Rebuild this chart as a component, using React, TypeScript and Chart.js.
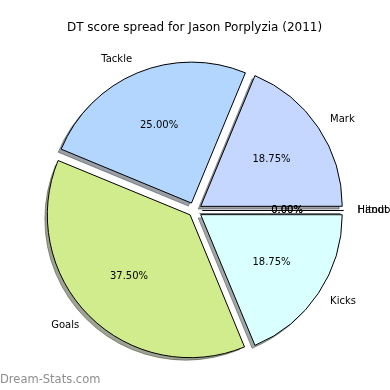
import { useEffect, useRef } from "react";
import { Chart, registerables } from "chart.js";

Chart.register(...registerables);

const TITLE = "DT score spread for Jason Porplyzia (2011)";
const WATERMARK = "Dream-Stats.com";
// Order as drawn clockwise from 3 o'clock
const categories = ["Kicks", "Goals", "Tackle", "Mark", "Handball", "Hitout"];
const values = [3, 6, 4, 3, 0, 0];
const colors = ["#d9ffff", "#d0ec8d", "#b3d6ff", "#c5d7ff", "#c5d7ff", "#c5d7ff"];

const EXPLODE = 8;
const RADIUS = 141;
const SHADOW_DX = -3;
const SHADOW_DY = 3;
const FONT = "'DejaVu Sans', 'Liberation Sans', sans-serif";

const total = values.reduce((a, b) => a + b, 0);
// Chart.js translates an arc by offset/4 * (2 - sin(min(PI, circumference)))
const offsets = values.map((v) => {
  const circ = (v / total) * Math.PI * 2;
  return (EXPLODE * 4) / (2 - Math.sin(Math.min(Math.PI, circ)));
});

function shadowColor(hex: string) {
  const n = parseInt(hex.slice(1), 16);
  const r = Math.round(((n >> 16) & 255) * 0.3);
  const g = Math.round(((n >> 8) & 255) * 0.3);
  const b = Math.round((n & 255) * 0.3);
  return `rgba(${r},${g},${b},0.5)`;
}

function geometry(chart: any) {
  const meta = chart.getDatasetMeta(0);
  return meta.data.map((arc: any) => {
    const p = arc.getProps(["x", "y", "startAngle", "endAngle", "outerRadius"], true);
    const mid = (p.startAngle + p.endAngle) / 2;
    return {
      cx: p.x + Math.cos(mid) * EXPLODE,
      cy: p.y + Math.sin(mid) * EXPLODE,
      r: p.outerRadius,
      start: p.startAngle,
      end: p.endAngle,
      mid,
    };
  });
}

const extrasPlugin = {
  id: "pieExtras",
  beforeDatasetsDraw(chart: any) {
    const ctx = chart.ctx;
    const geo = geometry(chart);
    ctx.save();
    geo.forEach((g: any, i: number) => {
      const col = shadowColor(colors[i]);
      const sx = g.cx + SHADOW_DX;
      const sy = g.cy + SHADOW_DY;
      if (values[i] === 0) {
        ctx.lineWidth = 1;
        ctx.strokeStyle = col;
        ctx.beginPath();
        ctx.moveTo(sx, sy);
        ctx.lineTo(sx + Math.cos(g.mid) * g.r, sy + Math.sin(g.mid) * g.r);
        ctx.stroke();
        return;
      }
      ctx.beginPath();
      ctx.moveTo(sx, sy);
      ctx.arc(sx, sy, g.r, g.start, g.end);
      ctx.closePath();
      ctx.fillStyle = col;
      ctx.fill();
      ctx.lineWidth = 1;
      ctx.strokeStyle = col;
      ctx.stroke();
    });
    ctx.restore();
  },
  afterDatasetsDraw(chart: any) {
    const ctx = chart.ctx;
    const geo = geometry(chart);
    // zero-width slices drawn as lines
    geo.forEach((g: any, i: number) => {
      if (values[i] !== 0) return;
      ctx.save();
      ctx.lineWidth = 1;
      ctx.strokeStyle = "#000";
      ctx.beginPath();
      ctx.moveTo(g.cx, g.cy);
      ctx.lineTo(g.cx + Math.cos(g.mid) * g.r, g.cy + Math.sin(g.mid) * g.r);
      ctx.stroke();
      ctx.restore();
    });
    ctx.save();
    ctx.font = `10px ${FONT}`;
    ctx.fillStyle = "#000";
    ctx.textBaseline = "middle";
    geo.forEach((g: any, i: number) => {
      const c = Math.cos(g.mid);
      const s = Math.sin(g.mid);
      ctx.textAlign = c > 0 ? "left" : "right";
      ctx.fillText(categories[i], g.cx + 1.1 * g.r * c, g.cy + 1.1 * g.r * s);
      ctx.textAlign = "center";
      const pct = ((values[i] / total) * 100).toFixed(2) + "%";
      ctx.fillText(pct, g.cx + 0.6 * g.r * c, g.cy + 0.6 * g.r * s);
    });
    ctx.font = `11.5px ${FONT}`;
    ctx.fillStyle = "#8e8e8e";
    ctx.textAlign = "left";
    ctx.fillText(WATERMARK, 0, 380);
    ctx.restore();
  },
};

export default function App() {
  const ref = useRef<HTMLCanvasElement | null>(null);
  useEffect(() => {
    document.body.style.margin = "0";
    if (!ref.current) return;
    const chart = new Chart(ref.current, {
      type: "pie",
      data: {
        labels: categories,
        datasets: [
          {
            data: values,
            backgroundColor: colors,
            borderColor: "#000",
            borderWidth: 1,
            offset: offsets,
            hoverOffset: 0,
          } as any,
        ],
      },
      options: {
        animation: false,
        responsive: true,
        maintainAspectRatio: false,
        events: [],
        rotation: 90,
        radius: RADIUS,
        layout: { padding: { top: 0, bottom: 4.4, left: 0, right: 1 } },
        plugins: {
          legend: { display: false },
          tooltip: { enabled: false },
          title: {
            display: true,
            text: TITLE,
            color: "#000",
            font: { family: FONT, size: 12, weight: "normal" },
            padding: { top: 21, bottom: 0 },
          },
        },
      } as any,
      plugins: [extrasPlugin],
    });
    return () => chart.destroy();
  }, []);
  return (
    <div style={{ position: "fixed", left: 0, top: 0, width: 390, height: 390, background: "#fff" }}>
      <canvas ref={ref} />
    </div>
  );
}
